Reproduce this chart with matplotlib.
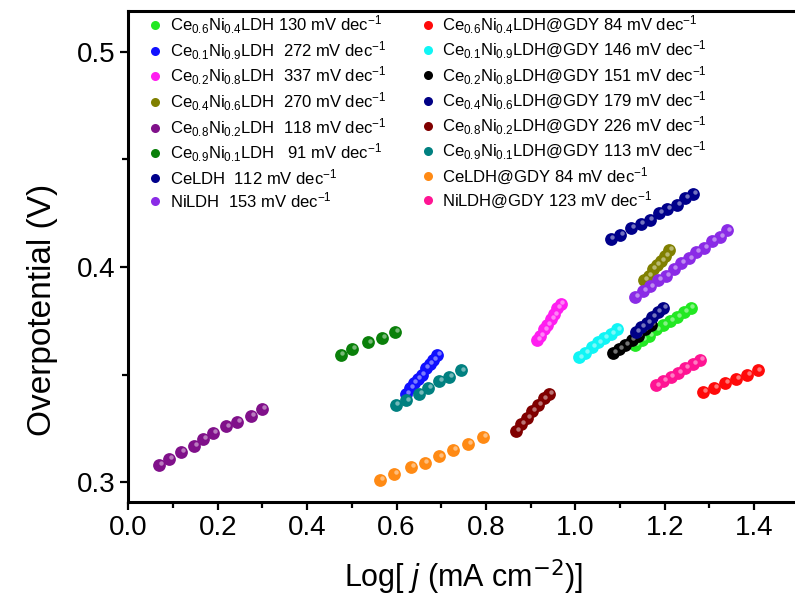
import numpy as np
import matplotlib
matplotlib.use('Agg')
import matplotlib.pyplot as plt
from matplotlib.lines import Line2D
from matplotlib.transforms import offset_copy

plt.rcParams['font.family'] = ['Liberation Sans', 'DejaVu Sans']
plt.rcParams['mathtext.fontset'] = 'custom'
plt.rcParams['mathtext.rm'] = 'Liberation Sans'
plt.rcParams['mathtext.it'] = 'Liberation Sans:italic'

# Tafel data: log j (x) vs overpotential (V)
x_ce6ni4 = [1.134, 1.150, 1.165, 1.181, 1.196, 1.212, 1.227, 1.243, 1.258]
y_ce6ni4 = [0.364, 0.366, 0.368, 0.371, 0.373, 0.375, 0.377, 0.379, 0.381]
x_ce1ni9 = [0.621, 0.630, 0.638, 0.647, 0.656, 0.665, 0.674, 0.682, 0.691]
y_ce1ni9 = [0.341, 0.344, 0.346, 0.348, 0.350, 0.353, 0.355, 0.357, 0.359]
x_ce2ni8 = [0.915, 0.922, 0.930, 0.937, 0.945, 0.952, 0.960, 0.967]
y_ce2ni8 = [0.366, 0.368, 0.371, 0.373, 0.376, 0.378, 0.381, 0.383]
x_ce4ni6 = [1.154, 1.164, 1.173, 1.182, 1.192, 1.201, 1.210]
y_ce4ni6 = [0.394, 0.396, 0.399, 0.401, 0.403, 0.405, 0.408]
x_ce8ni2 = [0.069, 0.091, 0.118, 0.147, 0.168, 0.190, 0.218, 0.244, 0.274, 0.299]
y_ce8ni2 = [0.308, 0.311, 0.314, 0.317, 0.320, 0.323, 0.326, 0.328, 0.331, 0.334]
x_ce9ni1 = [0.475, 0.501, 0.536, 0.568, 0.597]
y_ce9ni1 = [0.359, 0.362, 0.365, 0.367, 0.370]
x_celdh = [1.079, 1.101, 1.124, 1.146, 1.166, 1.187, 1.206, 1.227, 1.245, 1.264]
y_celdh = [0.413, 0.415, 0.418, 0.420, 0.422, 0.425, 0.427, 0.429, 0.432, 0.434]
x_nildh = [1.134, 1.151, 1.168, 1.185, 1.203, 1.220, 1.237, 1.254, 1.271, 1.288, 1.306, 1.323, 1.340]
y_nildh = [0.386, 0.389, 0.391, 0.394, 0.396, 0.399, 0.402, 0.404, 0.407, 0.409, 0.412, 0.414, 0.417]

x_ce6ni4_g = [1.286, 1.310, 1.335, 1.360, 1.385, 1.408]
y_ce6ni4_g = [0.342, 0.344, 0.346, 0.348, 0.350, 0.352]
x_ce1ni9_g = [1.008, 1.022, 1.037, 1.051, 1.065, 1.080, 1.094]
y_ce1ni9_g = [0.358, 0.360, 0.363, 0.365, 0.367, 0.369, 0.371]
x_ce2ni8_g = [1.084, 1.098, 1.112, 1.126, 1.141, 1.155, 1.169]
y_ce2ni8_g = [0.360, 0.362, 0.364, 0.366, 0.368, 0.371, 0.373]
x_ce4ni6_g = [1.136, 1.148, 1.160, 1.172, 1.184, 1.196]
y_ce4ni6_g = [0.370, 0.372, 0.374, 0.377, 0.379, 0.381]
x_ce8ni2_g = [0.867, 0.879, 0.892, 0.904, 0.917, 0.929, 0.942]
y_ce8ni2_g = [0.324, 0.327, 0.330, 0.333, 0.336, 0.339, 0.341]
x_ce9ni1_g = [0.598, 0.621, 0.651, 0.671, 0.695, 0.718, 0.744]
y_ce9ni1_g = [0.336, 0.338, 0.341, 0.344, 0.347, 0.349, 0.352]
x_celdh_g = [0.563, 0.594, 0.632, 0.663, 0.695, 0.727, 0.761, 0.794]
y_celdh_g = [0.301, 0.304, 0.307, 0.309, 0.312, 0.315, 0.318, 0.321]
x_nildh_g = [1.181, 1.197, 1.213, 1.230, 1.246, 1.263, 1.279]
y_nildh_g = [0.345, 0.347, 0.349, 0.351, 0.353, 0.355, 0.357]

labels_ldh = [
    r'Ce$_{0.6}$Ni$_{0.4}$LDH 130 mV dec$^{-1}$',
    r'Ce$_{0.1}$Ni$_{0.9}$LDH  272 mV dec$^{-1}$',
    r'Ce$_{0.2}$Ni$_{0.8}$LDH  337 mV dec$^{-1}$',
    r'Ce$_{0.4}$Ni$_{0.6}$LDH  270 mV dec$^{-1}$',
    r'Ce$_{0.8}$Ni$_{0.2}$LDH  118 mV dec$^{-1}$',
    r'Ce$_{0.9}$Ni$_{0.1}$LDH   91 mV dec$^{-1}$',
    r'CeLDH  112 mV dec$^{-1}$',
    r'NiLDH  153 mV dec$^{-1}$',
]
labels_gdy = [
    r'Ce$_{0.6}$Ni$_{0.4}$LDH@GDY 84 mV dec$^{-1}$',
    r'Ce$_{0.1}$Ni$_{0.9}$LDH@GDY 146 mV dec$^{-1}$',
    r'Ce$_{0.2}$Ni$_{0.8}$LDH@GDY 151 mV dec$^{-1}$',
    r'Ce$_{0.4}$Ni$_{0.6}$LDH@GDY 179 mV dec$^{-1}$',
    r'Ce$_{0.8}$Ni$_{0.2}$LDH@GDY 226 mV dec$^{-1}$',
    r'Ce$_{0.9}$Ni$_{0.1}$LDH@GDY 113 mV dec$^{-1}$',
    r'CeLDH@GDY 84 mV dec$^{-1}$',
    r'NiLDH@GDY 123 mV dec$^{-1}$',
]
colors_ldh = ['#22e822', '#1010ff', '#ff1ef0', '#808000', '#80108a', '#0a800a', '#00008b', '#8a2be6']
colors_gdy = ['#ff0a0a', '#10f5f5', '#000000', '#000085', '#800000', '#008080', '#ff8a14', '#ff1493']

series_ldh = [(x_ce6ni4, y_ce6ni4), (x_ce1ni9, y_ce1ni9), (x_ce2ni8, y_ce2ni8), (x_ce4ni6, y_ce4ni6),
              (x_ce8ni2, y_ce8ni2), (x_ce9ni1, y_ce9ni1), (x_celdh, y_celdh), (x_nildh, y_nildh)]
series_gdy = [(x_ce6ni4_g, y_ce6ni4_g), (x_ce1ni9_g, y_ce1ni9_g), (x_ce2ni8_g, y_ce2ni8_g),
              (x_ce4ni6_g, y_ce4ni6_g), (x_ce8ni2_g, y_ce8ni2_g), (x_ce9ni1_g, y_ce9ni1_g),
              (x_celdh_g, y_celdh_g), (x_nildh_g, y_nildh_g)]

fig = plt.figure(figsize=(7.95, 6.15), dpi=100)
ax = fig.add_axes([0.1614, 0.1842, 0.8434, 0.7984])

shine = offset_copy(ax.transData, fig=fig, x=1.3, y=1.3, units='points')
for (xs, ys), c in zip(series_ldh + series_gdy, colors_ldh + colors_gdy):
    ax.plot(xs, ys, 'o', ms=9.2, color=c, mec='none')
    ax.plot(xs, ys, 'o', ms=3.2, color='white', alpha=0.45, mec='none', transform=shine)

ax.set_xlim(0, 1.5)
ax.set_ylim(0.291, 0.519)
ax.set_xticks(np.arange(0, 1.41, 0.2))
ax.set_xticks(np.arange(0.1, 1.5, 0.2), minor=True)
ax.set_yticks([0.3, 0.4, 0.5])
ax.set_yticks([0.35, 0.45], minor=True)
ax.xaxis.set_major_formatter(plt.FormatStrFormatter('%.1f'))
ax.yaxis.set_major_formatter(plt.FormatStrFormatter('%.1f'))
ax.tick_params(which='major', length=6, width=1.6, labelsize=20, direction='out')
ax.tick_params(which='minor', length=4, width=1.6, direction='out')
for s in ax.spines.values():
    s.set_linewidth(2.2)

ax.set_xlabel(r'Log[ $\mathit{j}$ (mA cm$^{\mathsf{-2}}$)]', fontsize=22, labelpad=12)
ax.set_ylabel('Overpotential (V)', fontsize=24)
ax.yaxis.set_label_coords(-0.105, 0.39)

h1 = [Line2D([], [], ls='none', marker='o', ms=6.5, color=c, mec='none') for c in colors_ldh]
h2 = [Line2D([], [], ls='none', marker='o', ms=6.5, color=c, mec='none') for c in colors_gdy]
leg_kw = dict(loc='upper left', frameon=False, fontsize=12, handlelength=1.0,
              handletextpad=0.35, labelspacing=0.18, borderpad=0, borderaxespad=0)
leg1 = ax.legend(h1, labels_ldh, bbox_to_anchor=(0.028, 0.994), **leg_kw)
ax.add_artist(leg1)
ax.legend(h2, labels_gdy, bbox_to_anchor=(0.435, 0.994), **leg_kw)

fig.savefig('out.png', dpi=100)
